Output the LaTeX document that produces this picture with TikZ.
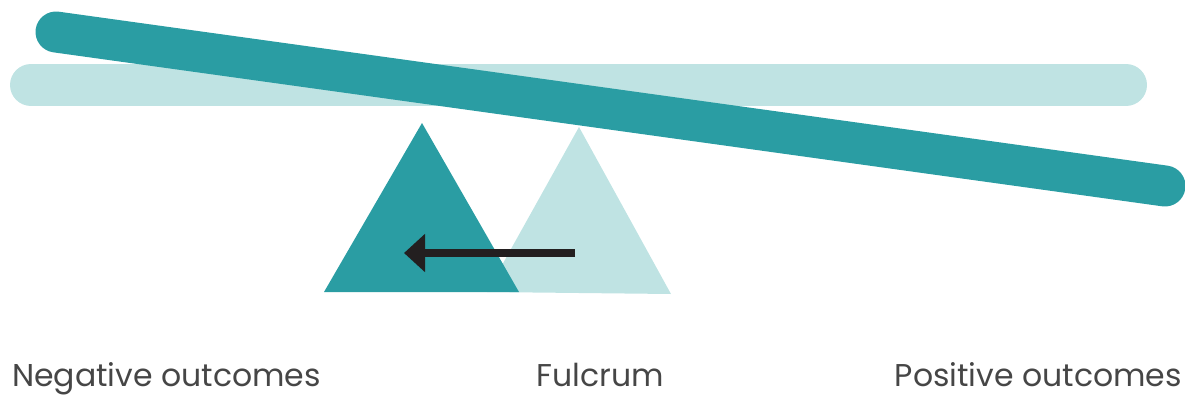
\documentclass[tikz,border=0pt]{standalone}
\usepackage{fontspec}
\setmainfont{Poppins}
\usepackage{xcolor}
\definecolor{BeamTeal}{RGB}{42, 157, 163}
\definecolor{PaleTeal}{RGB}{191, 227, 227}
\definecolor{InkGrey}{RGB}{35, 31, 32}
\definecolor{LabelGrey}{RGB}{70, 70, 70}
\usepackage{tikz}
\usetikzlibrary{arrows.meta, positioning, calc}

\begin{document}
\begin{tikzpicture}[
        x=1pt, y=-1pt,
        beam/.style={line cap=round, line width=41pt},
        label/.style={font=\fontsize{31.5}{34}\selectfont, text=LabelGrey,
                    inner sep=0pt, anchor=base},
        arr/.style={-{Triangle[length=21pt, width=37pt]}, line width=8pt, InkGrey}
    ]
        \useasboundingbox (0,0) rectangle (1185,396);

        % level beam behind, tilted beam in front
        \draw[beam, PaleTeal, line width=42pt] (31,85) -- (1126,85);
        \draw[beam, BeamTeal] (56,32) -- (1165,186);

        % the two fulcrum positions
        \fill[PaleTeal] (579,127) -- (671,294) -- (487,292) -- cycle;
        \fill[BeamTeal] (422,123) -- (519,292) -- (324,292) -- cycle;

        % shift of the fulcrum
        \coordinate (from) at (575,253);
        \coordinate (to) at (404,253);
        \draw[arr] (from) -- (to);

        \node[label, anchor=base west] (neg) at (12,386) {Negative outcomes};
        \node[label] (fulcrum) at (600,386) {Fulcrum};
        \node[label, anchor=base east] (pos) at (1182,386) {Positive outcomes};
    \end{tikzpicture}
\end{document}
